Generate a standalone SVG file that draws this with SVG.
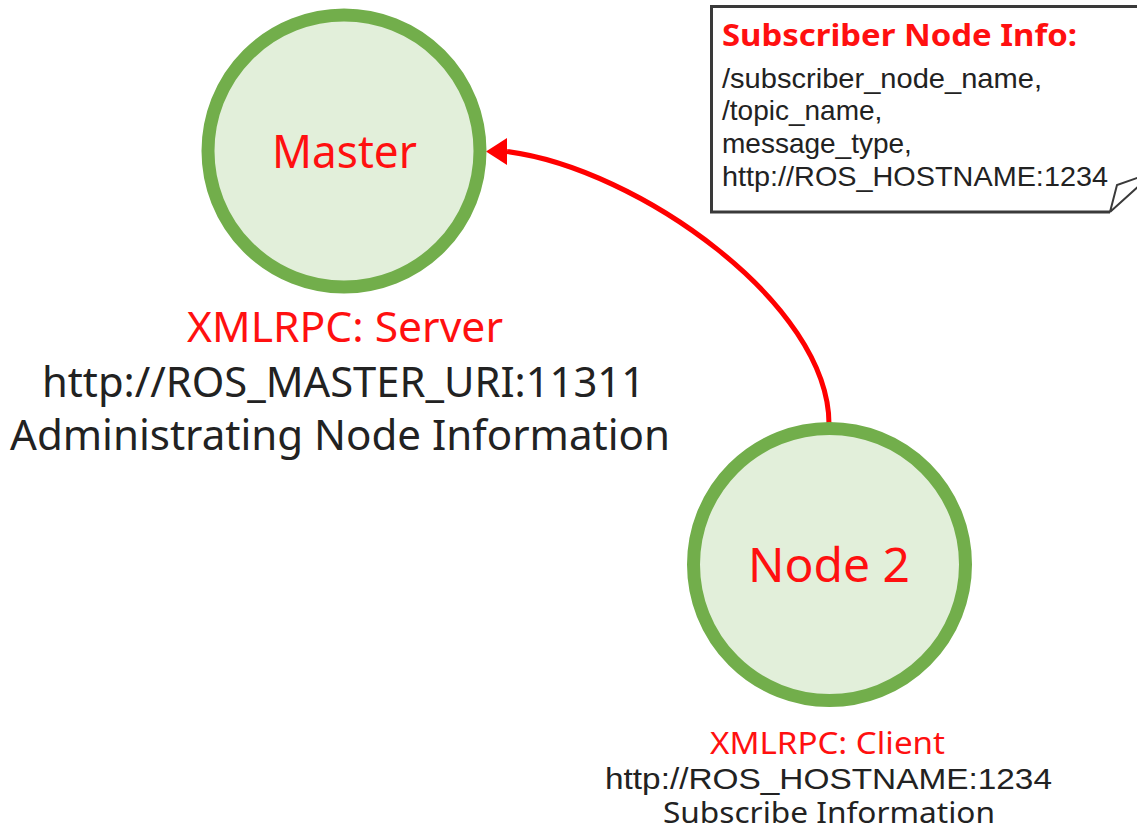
<svg xmlns="http://www.w3.org/2000/svg" width="1137" height="840" viewBox="0 0 1137 840">
  <style>
    .circle { fill: #E2EFDA; stroke: #72AE4B; stroke-width: 13; }
    .seg { font-family: "Noto Sans", "Open Sans", sans-serif; }
    .arial { font-family: "Liberation Sans", Arial, sans-serif; }
    .red { fill: #FF1010; }
    .dark { fill: #222222; }
    .mid { text-anchor: middle; }
    .conn { fill: none; stroke: #FF0000; stroke-width: 5; }
    .box { fill: none; stroke: #3a3a3a; stroke-width: 3; }
  </style>
  <defs>
    <marker id="arrow" markerUnits="userSpaceOnUse" orient="180" refX="0" refY="0" overflow="visible">
      <path d="M0,-13.5 L21,0 L0,13.5 Z" fill="#FF0000"/>
    </marker>
  </defs>
  <rect width="1137" height="840" fill="#FFFFFF"/>

  <g id="connectors">
    <path class="conn" d="M829 424 C829 304, 638 168.5, 507 151.5" marker-end="url(#arrow)"/>
  </g>

  <g id="master">
    <circle class="circle" cx="344" cy="151" r="136"/>
    <text class="seg red mid" x="344.5" y="168" font-size="46" textLength="145" lengthAdjust="spacingAndGlyphs">Master</text>
    <text class="seg red mid" x="345" y="342" font-size="41" textLength="316" lengthAdjust="spacingAndGlyphs">XMLRPC: Server</text>
    <text class="seg dark mid" x="343.5" y="397" font-size="41" textLength="603" lengthAdjust="spacingAndGlyphs">http://ROS_MASTER_URI:11311</text>
    <text class="seg dark mid" x="340" y="450" font-size="41" textLength="660" lengthAdjust="spacingAndGlyphs">Administrating Node Information</text>
  </g>

  <g id="node2">
    <circle class="circle" cx="829.5" cy="564.5" r="136"/>
    <text class="seg red mid" x="829" y="582" font-size="48" textLength="162" lengthAdjust="spacingAndGlyphs">Node 2</text>
    <text class="seg red mid" x="827.5" y="754" font-size="30" textLength="235" lengthAdjust="spacingAndGlyphs">XMLRPC: Client</text>
    <text class="arial dark mid" x="828.5" y="789" font-size="30" textLength="447" lengthAdjust="spacingAndGlyphs">http://ROS_HOSTNAME:1234</text>
    <text class="seg dark mid" x="829" y="823" font-size="29" textLength="332" lengthAdjust="spacingAndGlyphs">Subscribe Information</text>
  </g>

  <g id="note">
    <path class="box" d="M1140 6.5 H711.5 V212 H1110"/>
    <path d="M1110 212 L1117 185 L1140 177 M1110 212 L1140 185" fill="none" stroke="#3a3a3a" stroke-width="2"/>
    <text class="seg red" x="722" y="46" font-size="30" font-weight="bold" textLength="355" lengthAdjust="spacingAndGlyphs">Subscriber Node Info:</text>
    <text class="arial dark" x="722" y="88" font-size="28" textLength="320" lengthAdjust="spacingAndGlyphs">/subscriber_node_name,</text>
    <text class="arial dark" x="722" y="120" font-size="28">/topic_name,</text>
    <text class="arial dark" x="722" y="153" font-size="28">message_type,</text>
    <text class="arial dark" x="722" y="186" font-size="28" textLength="386" lengthAdjust="spacingAndGlyphs">http://ROS_HOSTNAME:1234</text>
  </g>
</svg>
